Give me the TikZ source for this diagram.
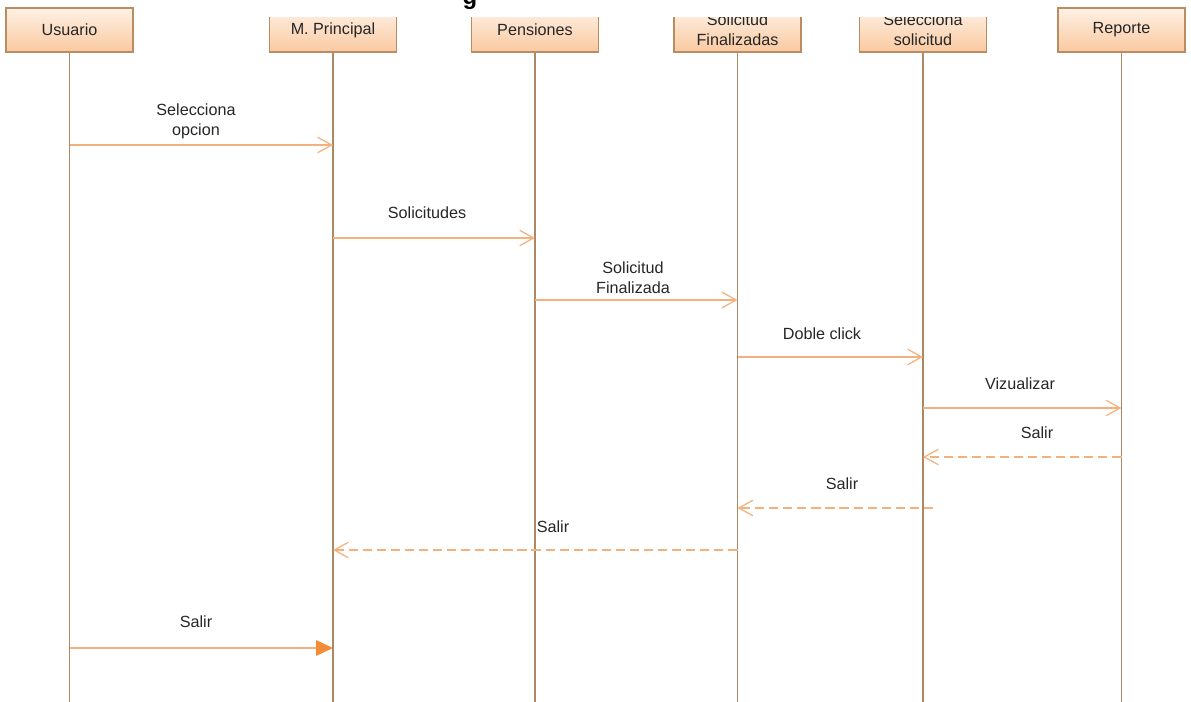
\documentclass[tikz,border=0pt]{standalone}
\usepackage{fontspec}
\setmainfont{Liberation Sans}
\usetikzlibrary{arrows.meta}
\definecolor{boxtop}{RGB}{254,241,229}
\definecolor{boxbot}{RGB}{250,201,160}
\definecolor{boxline}{RGB}{185,140,100}
\definecolor{lifec}{RGB}{172,136,100}
\definecolor{msgc}{RGB}{243,178,125}
\definecolor{tipc}{RGB}{244,140,55}

\begin{document}
\begin{tikzpicture}[x=0.025cm, y=-0.025cm, font=\fontsize{11.5}{14}\selectfont, obj/.style = {draw=boxline, line width=0.8pt, top color=boxtop, bottom color=boxbot, minimum width=3.175cm, minimum height=1.1cm, inner sep=0pt, align=center, text=black!85}, lifeln/.style = {draw=lifec, line width=0.8pt}, msg/.style = {draw=msgc, line width=0.9pt, -{Straight Barb[length=10pt, width=11pt]}}, ret/.style = {msg, dash pattern=on 6.5pt off 3.5pt}, lbl/.style = {align=center, text=black!85}]
                \useasboundingbox (0,0) rectangle (1191,702);
                \node[font=\bfseries\fontsize{17}{19}\selectfont, anchor=base] (ttl) at (470,5) {g};
                \node[obj] (usr) at (69.5,30) {Usuario};
                \node[obj] (rep) at (1121.5,30) {Reporte};
                \begin{scope}
                \clip (200,18) rectangle (1020,702);
                \node[obj] (mp) at (333,30) {M. Principal};
                \node[obj] (pen) at (535,30) {Pensiones};
                \node[obj] (sfin) at (737.5,30) {Solicitud\\Finalizadas};
                \node[obj] (ssel) at (923,30) {Selecciona\\solicitud};
                \end{scope}
                \foreach \n in {usr,mp,pen,sfin,ssel,rep}
                    \draw[lifeln] (\n.south) -- (\n.south |- 0,702);
                \coordinate (r7) at (933,508);
                \draw[msg] (usr.south |- 0,145) -- (mp.south |- 0,145);
                \node[lbl] (l1) at (196,121) {Selecciona\\opcion};
                \draw[msg] (mp.south |- 0,238) -- (pen.south |- 0,238);
                \node[lbl] (l2) at (427,213) {Solicitudes};
                \draw[msg] (pen.south |- 0,300) -- (sfin.south |- 0,300);
                \node[lbl] (l3) at (633,278) {Solicitud\\Finalizada};
                \draw[msg] (sfin.south |- 0,357) -- (ssel.south |- 0,357);
                \node[lbl] (l4) at (822,334) {Doble click};
                \draw[msg] (ssel.south |- 0,408) -- (rep.south |- 0,408);
                \node[lbl] (l5) at (1020,384) {Vizualizar};
                \draw[ret] (rep.south |- 0,457) -- (ssel.south |- 0,457);
                \node[lbl] (l6) at (1037,433) {Salir};
                \draw[ret] (r7) -- (sfin.south |- r7);
                \node[lbl] (l7) at (842,484) {Salir};
                \draw[ret] (sfin.south |- 0,550) -- (mp.south |- 0,550);
                \node[lbl] (l8) at (553,527) {Salir};
                \draw[draw=msgc, line width=0.9pt, -{Triangle[length=12pt, width=11pt, color=tipc]}] (usr.south |- 0,648) -- (mp.south |- 0,648);
                \node[lbl] (l9) at (196,622) {Salir};
            \end{tikzpicture}
\end{document}
